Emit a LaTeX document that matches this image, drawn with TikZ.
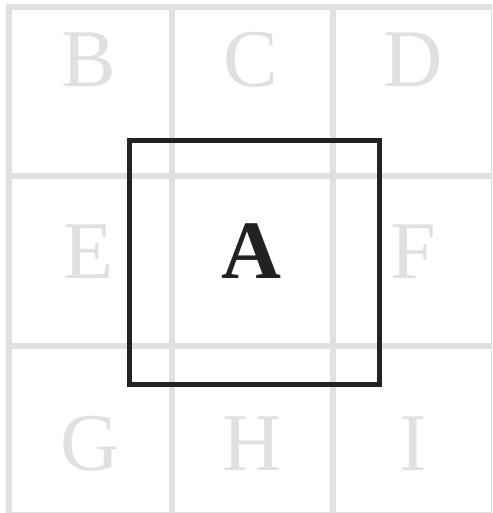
\documentclass[tikz,border=0pt]{standalone}
\usepackage{fontspec}
\setmainfont{Liberation Serif}
\definecolor{gridgray}{HTML}{E0E0E0}
\definecolor{boxblack}{HTML}{222222}
\tikzset{
  gridline/.style={draw=gridgray, line width=6pt},
  faint/.style={text=gridgray, font=\fontsize{82}{82}\selectfont, anchor=base, inner sep=0pt},
  mainletter/.style={text=boxblack, font=\fontsize{83}{83}\selectfont\bfseries, anchor=base, inner sep=0pt},
  focusbox/.style={draw=boxblack, line width=4.5pt}
}
\begin{document}
\begin{tikzpicture}[x=1pt, y=-1pt]
\useasboundingbox (0,0) rectangle (492,513);
\clip (0,0) rectangle (492,513);
% grid
\foreach \gx in {9,171.5,332.5,494} {
  \draw[gridline] (\gx,4.5) -- (\gx,520);
}
\foreach \gy in {7.5,176,345.5,514.5} {
  \draw[gridline] (6,\gy) -- (500,\gy);
}
% letters
\node[faint] (B) at (89,87) {B};
\node[faint] (C) at (251,87) {C};
\node[faint] (D) at (413,87) {D};
\node[faint] (E) at (89,278) {E};
\node[faint] (F) at (413,278) {F};
\node[faint] (G) at (90,470) {G};
\node[faint] (H) at (252,470) {H};
\node[faint] (I) at (413,470) {I};
\draw[focusbox] (129.5,140.5) rectangle (379.5,384.5);
\node[mainletter] (A) at (251,278) {A};
\end{tikzpicture}
\end{document}
